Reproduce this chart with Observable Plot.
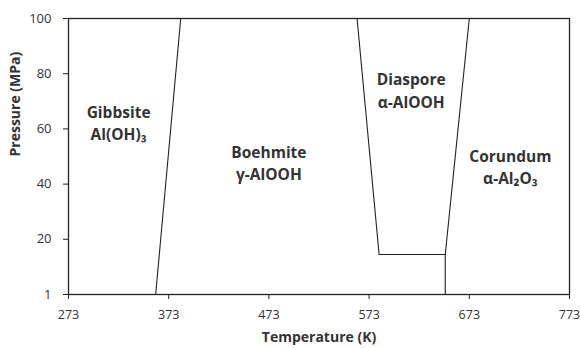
<!DOCTYPE html>
<html><head><meta charset="utf-8">
<script src="https://cdn.jsdelivr.net/npm/d3@7"></script>
<script src="https://cdn.jsdelivr.net/npm/@observablehq/plot@0.6"></script>
<style>body{margin:0;background:#fff} svg{font-family:"Open Sans", sans-serif}</style>
</head><body><div id="chart"></div>
<script>
// Axis ticks
const xTicks = [273, 373, 473, 573, 673, 773];
const yTicks = [0, 20, 40, 60, 80, 100];
const yTickLabels = ["1", "20", "40", "60", "80", "100"];

// Phase boundaries (Temperature K, Pressure MPa)
const gibbsiteBoundaryT = [360, 385];
const gibbsiteBoundaryP = [0, 100];
const diasporeBoundaryT = [561, 583, 649, 673];
const diasporeBoundaryP = [100, 14.5, 14.5, 100];
const lowerBoundaryT = [649, 649];
const lowerBoundaryP = [14.5, 0];

// Phase labels
const phaseNames = ["Gibbsite", "Boehmite", "Diaspore", "Corundum"];
const phaseFormulas = ["Al(OH)₃", "γ-AlOOH", "α-AlOOH", "α-Al₂O₃"];
const phaseT = [323, 473, 615, 714];
const phaseP = [62.5, 48, 74.3, 46.7];

const seg = (T, P, id) => T.map((t, i) => ({T: t, P: P[i], id}));
const lines = [
  ...seg(gibbsiteBoundaryT, gibbsiteBoundaryP, "g"),
  ...seg(diasporeBoundaryT, diasporeBoundaryP, "d"),
  ...seg(lowerBoundaryT, lowerBoundaryP, "l")
];
const labels = phaseNames.map((n, i) => ({T: phaseT[i], P: phaseP[i], text: n + "\n" + phaseFormulas[i]}));
const fmtY = d => yTickLabels[yTicks.indexOf(d)];

const chart = Plot.plot({
  width: 580,
  height: 348,
  marginLeft: 68,
  marginRight: 11,
  marginTop: 18,
  marginBottom: 54,
  style: {fontFamily: "'Open Sans', sans-serif", fontSize: "13px", color: "#333", background: "#fff"},
  x: {domain: [273, 773], label: null},
  y: {domain: [0, 100], label: null},
  marks: [
    Plot.frame({stroke: "#222", strokeWidth: 1.3}),
    Plot.axisX({ticks: xTicks, tickSize: 5, tickPadding: 11, label: null, stroke: "#222", fontSize: 12.5, fill: "#333"}),
    Plot.axisY({ticks: yTicks, tickSize: 5, tickPadding: 12, label: null, stroke: "#222", fontSize: 13, fill: "#333",
      tickFormat: fmtY}),
    Plot.line(lines, {x: "T", y: "P", z: "id", stroke: "#222", strokeWidth: 1.1}),
    Plot.text(labels, {x: "T", y: "P", text: "text", fontSize: 15.5, fontWeight: "bold", fill: "#333", lineHeight: 1.45}),
    Plot.text(["Temperature (K)"], {frameAnchor: "bottom", dy: 47, fontSize: 14, fontWeight: "bold", fill: "#333"}),
    Plot.text(["Pressure (MPa)"], {frameAnchor: "left", dx: -52.5, rotate: -90, fontSize: 14, fontWeight: "bold", fill: "#333"})
  ]
});
document.getElementById("chart").appendChild(chart);
</script>
</body></html>
